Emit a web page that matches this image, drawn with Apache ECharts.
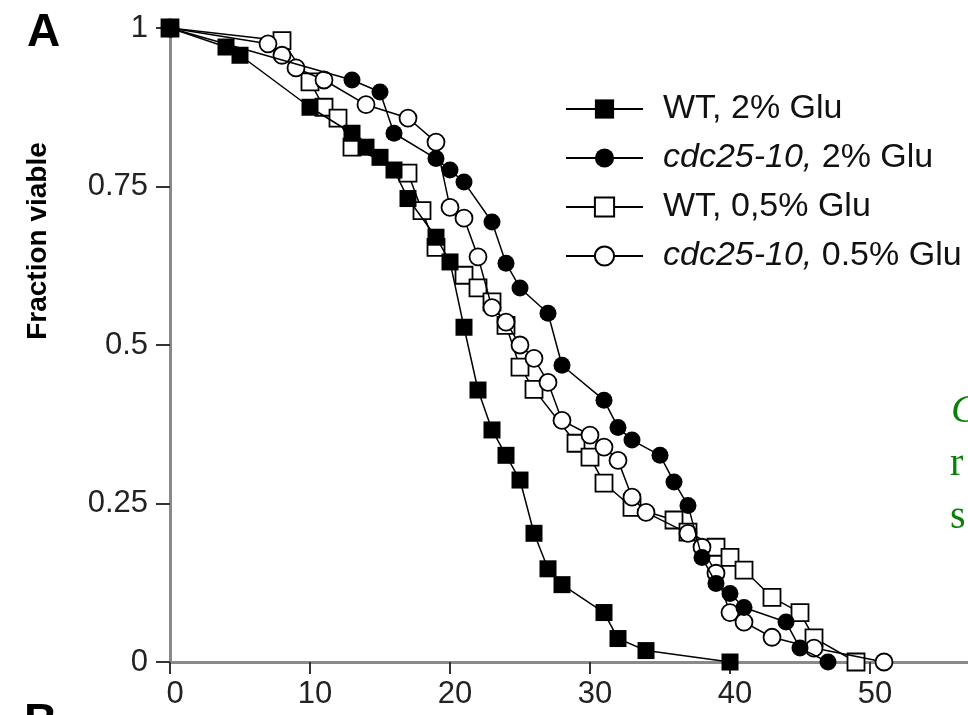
<!DOCTYPE html>
<html>
<head>
<meta charset="utf-8">
<script src="https://cdn.jsdelivr.net/npm/echarts@6/dist/echarts.min.js"></script>
<style>
html,body{margin:0;padding:0;background:#fff;}
#chart{width:968px;height:715px;}
</style>
</head>
<body>
<div id="chart"></div>
<script>
// ---- data ----
const seriesNames = ['WT, 2% Glu', 'cdc25-10, 2% Glu', 'WT, 0,5% Glu', 'cdc25-10, 0.5% Glu'];

const wt2X = [0, 4, 5, 10, 13, 14, 15, 16, 17, 19, 20, 21, 22, 23, 24, 25, 26, 27, 28, 31, 32, 34, 40];
const wt2Y = [1, 0.97, 0.957, 0.875, 0.834, 0.812, 0.796, 0.776, 0.731, 0.670, 0.631, 0.528, 0.429, 0.366, 0.326, 0.287, 0.203, 0.147, 0.122, 0.078, 0.037, 0.018, 0];

const cdc2X = [0, 13, 15, 16, 19, 20, 21, 23, 24, 25, 27, 28, 31, 32, 33, 35, 36, 37, 38, 39, 40, 41, 44, 45, 47];
const cdc2Y = [1, 0.918, 0.899, 0.834, 0.794, 0.776, 0.757, 0.694, 0.629, 0.590, 0.550, 0.468, 0.413, 0.370, 0.350, 0.326, 0.284, 0.247, 0.165, 0.124, 0.108, 0.086, 0.063, 0.022, 0];

const wt05X = [0, 8, 10, 11, 12, 13, 17, 18, 19, 21, 22, 23, 24, 25, 26, 29, 30, 31, 33, 36, 37, 39, 40, 41, 43, 45, 46, 49];
const wt05Y = [1, 0.98, 0.915, 0.875, 0.858, 0.812, 0.771, 0.712, 0.654, 0.610, 0.590, 0.568, 0.531, 0.465, 0.43, 0.345, 0.323, 0.282, 0.244, 0.224, 0.205, 0.181, 0.165, 0.145, 0.102, 0.078, 0.038, 0];

const cdc05X = [0, 7, 8, 9, 11, 14, 17, 19, 20, 21, 22, 23, 24, 25, 26, 27, 28, 30, 31, 32, 33, 34, 37, 38, 39, 40, 41, 43, 46, 51];
const cdc05Y = [1, 0.975, 0.957, 0.937, 0.918, 0.879, 0.858, 0.820, 0.717, 0.700, 0.639, 0.559, 0.536, 0.500, 0.479, 0.441, 0.381, 0.358, 0.339, 0.318, 0.260, 0.236, 0.203, 0.181, 0.140, 0.078, 0.063, 0.039, 0.022, 0];

const xTickLabels = ['0', '10', '20', '30', '40', '50'];
const yTickLabels = ['0', '0.25', '0.5', '0.75', '1'];

// ---- chart ----
const FONT = '"Liberation Sans", Arial, Helvetica, sans-serif';
const zip = (xs, ys) => xs.map((x, i) => [x, ys[i]]);

const chart = echarts.init(document.getElementById('chart'), null, {renderer: 'canvas'});

function mkSeries(name, xs, ys, symbol, filled, z) {
  return {
    name: name,
    type: 'line',
    data: zip(xs, ys),
    symbol: symbol,
    symbolSize: 17,
    showAllSymbol: true,
    clip: false,
    z: z,
    lineStyle: {color: '#000', width: 1.5},
    itemStyle: {
      color: filled ? '#000' : '#fff',
      borderColor: '#000',
      borderWidth: filled ? 0 : 1.8
    },
    emphasis: {disabled: true},
    animation: false
  };
}

const LH = 24;
const option = {
  animation: false,
  backgroundColor: '#fff',
  grid: {left: 170, right: 0, top: 28, bottom: 53, containLabel: false},
  xAxis: {
    type: 'value',
    min: 0, max: 57, interval: 10,
    axisLine: {show: true, onZero: false, lineStyle: {color: '#8a8a8a', width: 3}},
    axisTick: {show: true, length: 12, lineStyle: {color: '#333', width: 2}},
    splitLine: {show: false},
    axisLabel: {
      margin: 17,
      showMaxLabel: false,
      fontFamily: FONT, fontSize: 31, color: '#222',
      padding: [0, 0, 0, 10],
      formatter: (v) => { const i = Math.round(v / 10); return (Math.abs(v - i * 10) < 1e-6 && xTickLabels[i] !== undefined) ? xTickLabels[i] : ''; }
    }
  },
  yAxis: {
    type: 'value',
    min: 0, max: 1, interval: 0.25,
    axisLine: {show: true, onZero: false, lineStyle: {color: '#8a8a8a', width: 3}},
    axisTick: {show: true, length: 14, lineStyle: {color: '#333', width: 2}},
    splitLine: {show: false},
    axisLabel: {
      margin: 22,
      fontFamily: FONT, fontSize: 31, color: '#222',
      formatter: (v) => { const i = Math.round(v / 0.25); return yTickLabels[i] !== undefined ? yTickLabels[i] : ''; }
    }
  },
  legend: {
    orient: 'vertical',
    left: 560, top: 87,
    itemWidth: 77, itemHeight: 24, itemGap: 15,
    data: seriesNames,
    selectedMode: false,
    textStyle: {
      fontFamily: FONT, fontSize: 34, color: '#111', lineHeight: LH,
      rich: {
        s: {width: 15, lineHeight: LH, fontSize: 34},
        n: {fontFamily: FONT, fontSize: 34, color: '#111', lineHeight: LH},
        i: {fontStyle: 'italic', fontFamily: FONT, fontSize: 34, color: '#111', lineHeight: LH}
      }
    },
    formatter: (name) => {
      if (name.indexOf('cdc25-10,') === 0) {
        return '{s|}{i|cdc25-10,}{n|' + name.slice('cdc25-10,'.length) + '}';
      }
      return '{s|}{n|' + name + '}';
    }
  },
  graphic: [
    {type: 'text', left: 27, top: 10, style: {text: 'A', font: 'bold 46px ' + FONT, fill: '#000'}},
    {type: 'text', left: 24, top: 700, style: {text: 'B', font: 'bold 46px ' + FONT, fill: '#000'}},
    {type: 'text', x: 38, y: 241, rotation: Math.PI / 2,
      style: {text: 'Fraction viable', font: 'bold 28px ' + FONT, fill: '#000', textAlign: 'center', textVerticalAlign: 'middle'}},
    {type: 'text', x: 951, y: 411, style: {text: 'C', font: 'italic 40px "Liberation Serif", "Times New Roman", serif', fill: '#0a800a', textVerticalAlign: 'middle'}},
    {type: 'text', x: 950, y: 464, style: {text: 'r', font: '40px "Liberation Serif", "Times New Roman", serif', fill: '#0a800a', textVerticalAlign: 'middle'}},
    {type: 'text', x: 950, y: 517, style: {text: 's', font: '40px "Liberation Serif", "Times New Roman", serif', fill: '#0a800a', textVerticalAlign: 'middle'}}
  ],
  series: [
    mkSeries(seriesNames[2], wt05X, wt05Y, 'rect', false, 2),
    mkSeries(seriesNames[3], cdc05X, cdc05Y, 'circle', false, 3),
    mkSeries(seriesNames[1], cdc2X, cdc2Y, 'circle', true, 4),
    mkSeries(seriesNames[0], wt2X, wt2Y, 'rect', true, 5)
  ]
};

chart.setOption(option);
</script>
</body>
</html>
